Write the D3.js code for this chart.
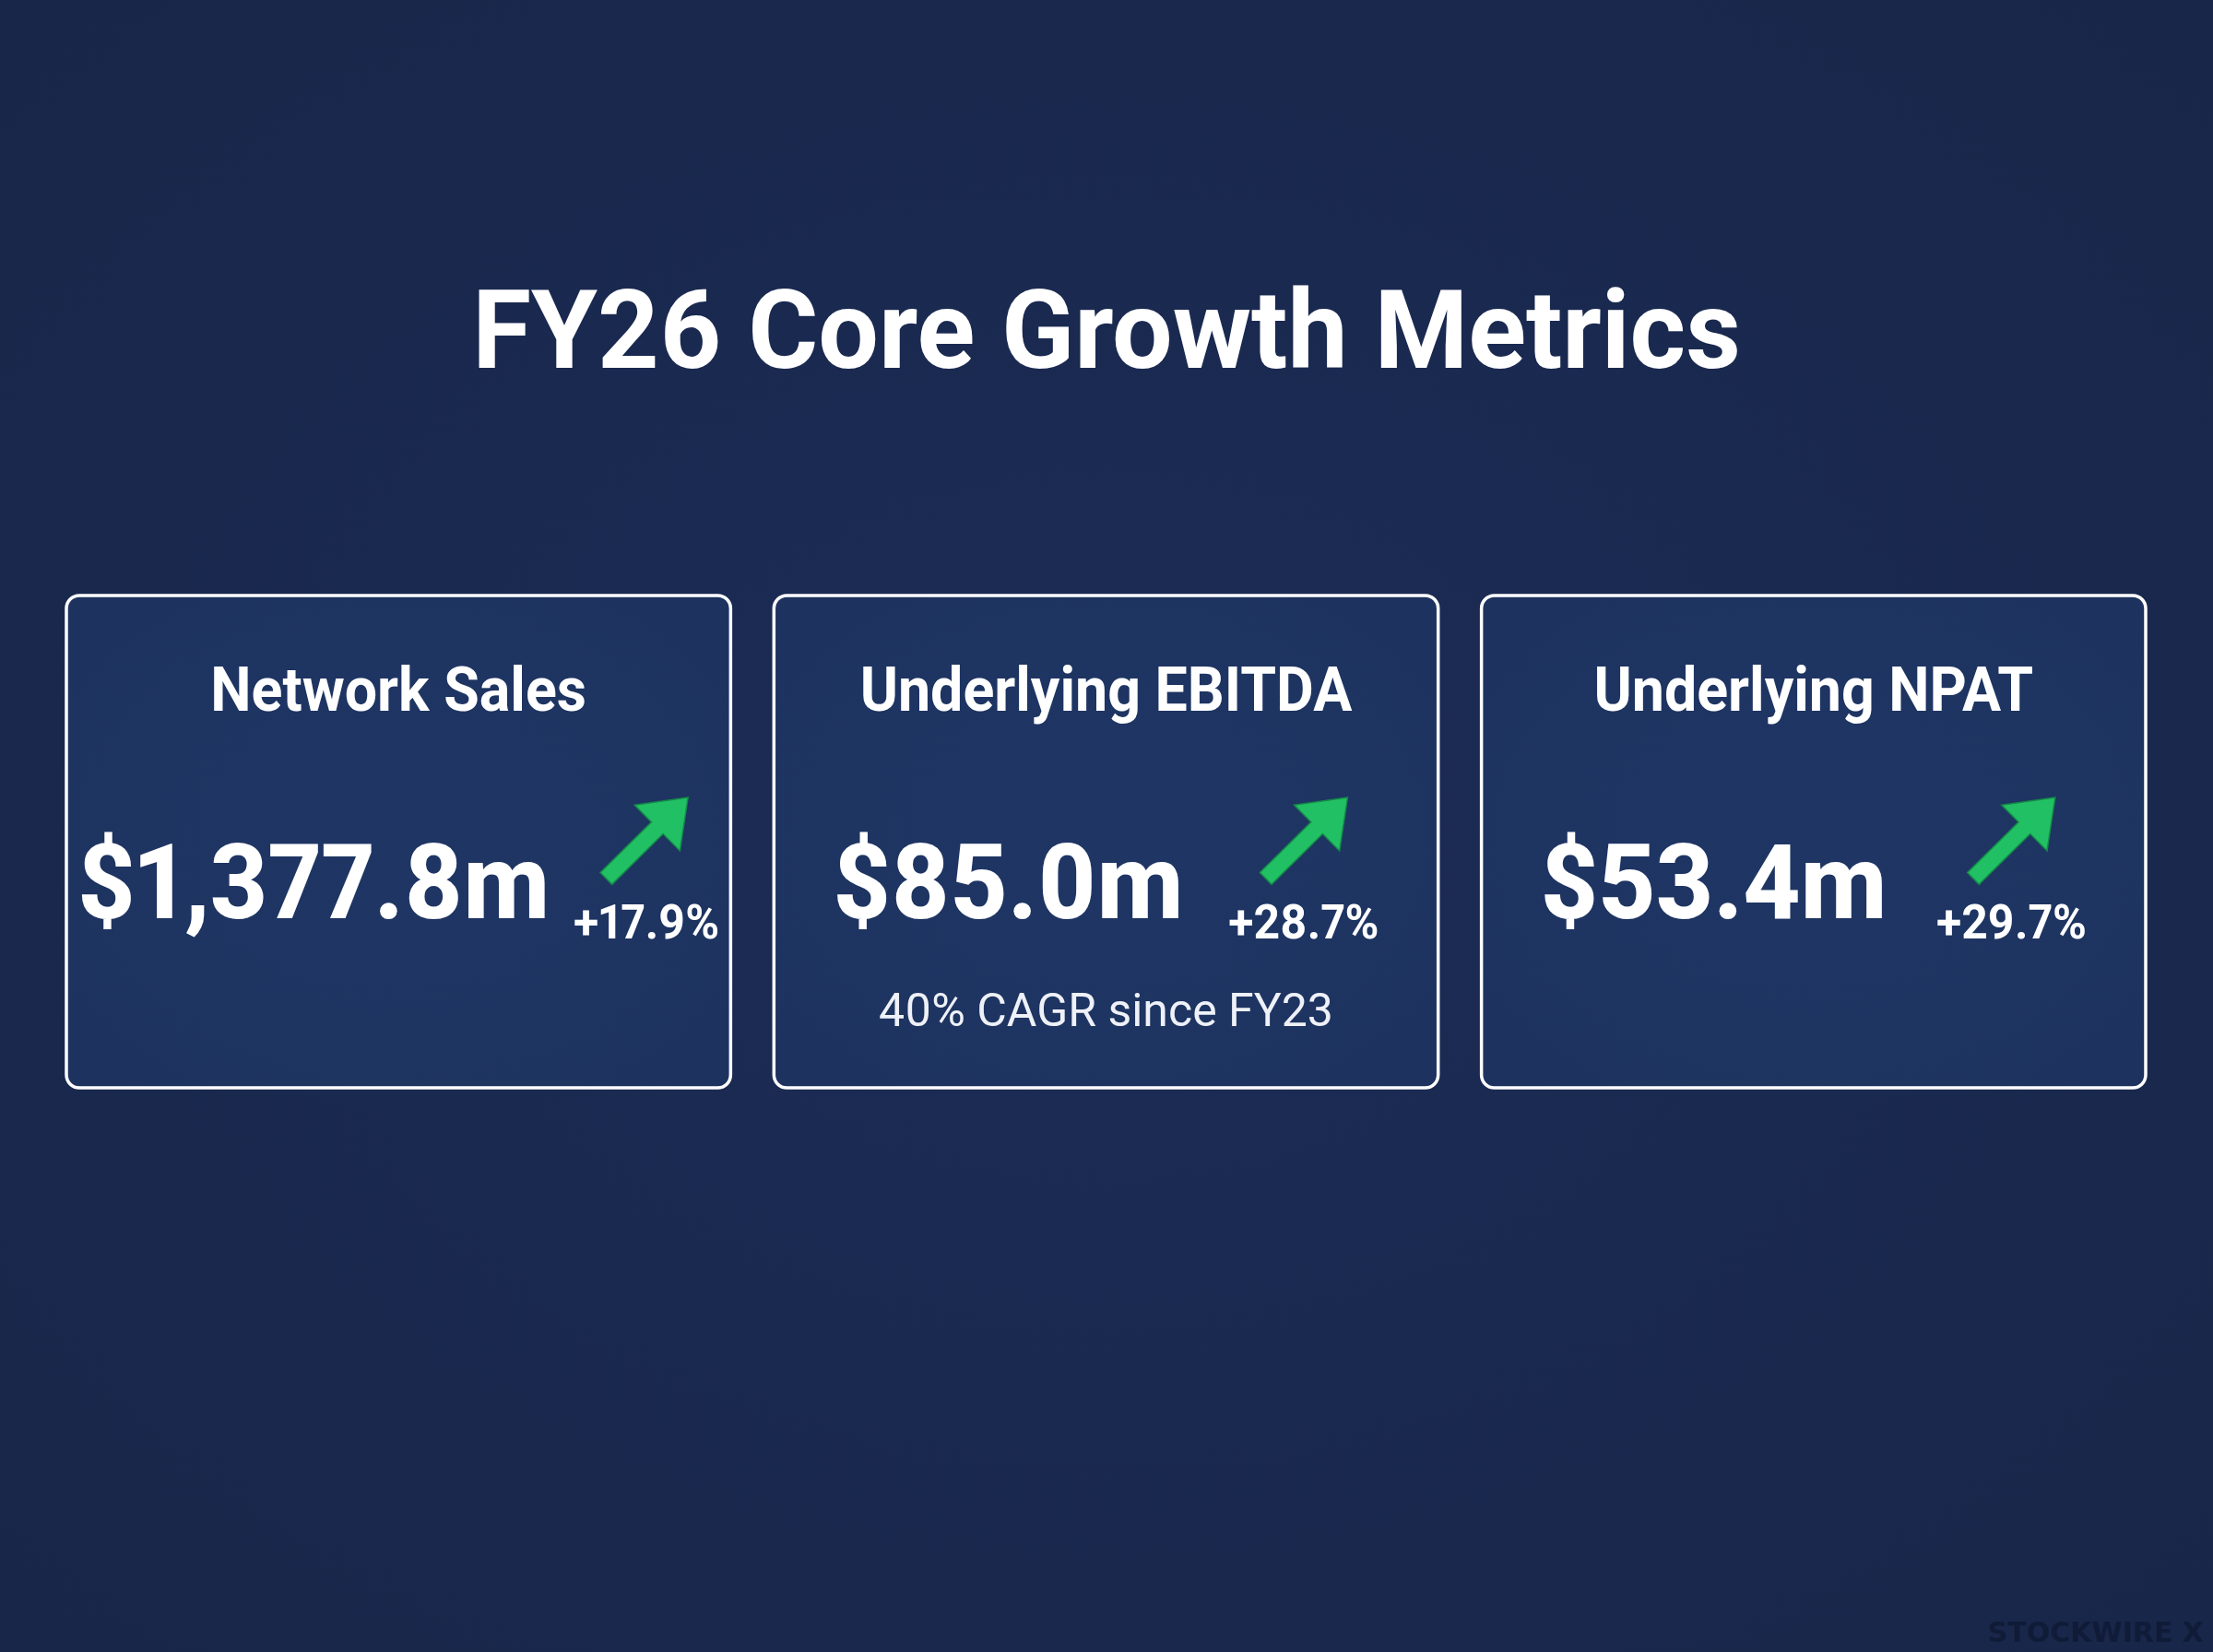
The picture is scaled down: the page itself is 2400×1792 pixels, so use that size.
<!DOCTYPE html>
<html>
<head>
<meta charset="utf-8">
<script src="https://cdn.jsdelivr.net/npm/d3@7/dist/d3.min.js"></script>
<style>
  html, body { margin: 0; padding: 0; background: #1a2950; }
  svg { display: block; }
  text { font-variant-numeric: proportional-nums; font-feature-settings: "pnum" 1; }
</style>
</head>
<body>
<svg id="chart" width="2400" height="1792"></svg>
<script>
// ---- Data ----
const chartTitle = "FY26 Core Growth Metrics";
const metrics = ["Network Sales", "Underlying EBITDA", "Underlying NPAT"];
const values = [1377.8, 85.0, 53.4];          // $m
const growth = [17.9, 28.7, 29.7];            // % YoY
const notes = ["", "40% CAGR since FY23", ""];
const watermark = "STOCKWIRE X";

// ---- Setup ----
const W = 2400, H = 1792;
const svg = d3.select("#chart");
const FONT = "Roboto, 'Liberation Sans', Arial, sans-serif";

// condense a text element horizontally by factor f
function condense(sel, f) {
  sel.each(function() {
    const w = this.getComputedTextLength();
    if (w > 0) d3.select(this).attr("textLength", w * f).attr("lengthAdjust", "spacingAndGlyphs");
  });
}

const defs = svg.append("defs");
const bg = defs.append("radialGradient").attr("id", "bg").attr("cx", "50%").attr("cy", "50%").attr("r", "70%");
bg.append("stop").attr("offset", "0%").attr("stop-color", "#1c2c56");
bg.append("stop").attr("offset", "100%").attr("stop-color", "#182649");
const cg = defs.append("radialGradient").attr("id", "card").attr("cx", "50%").attr("cy", "50%").attr("r", "75%");
cg.append("stop").attr("offset", "0%").attr("stop-color", "#1f3665");
cg.append("stop").attr("offset", "100%").attr("stop-color", "#1d325e");

svg.append("rect").attr("width", W).attr("height", H).attr("fill", "url(#bg)");

// Title
svg.append("text")
  .attr("x", W / 2).attr("y", 399)
  .attr("text-anchor", "middle")
  .attr("font-family", FONT).attr("font-weight", 700).attr("font-size", 118)
  .attr("fill", "#ffffff")
  .text(chartTitle)
  .call(condense, 0.985);

// Card scale
const x = d3.scaleBand().domain(metrics).range([72, 2327]).paddingInner(0.0612);
const cardTop = 646, cardH = 534;
const bw = x.bandwidth();

const fmtVal = v => "$" + d3.format(",.1f")(v) + "m";
const fmtPct = v => "+" + d3.format(".1f")(v) + "%";

const data = metrics.map((m, i) => ({ m, v: values[i], g: growth[i], note: notes[i] }));

const cards = svg.selectAll("g.card").data(data).join("g").attr("class", "card")
  .attr("transform", d => `translate(${x(d.m)},0)`);

cards.append("rect")
  .attr("x", 0).attr("y", cardTop)
  .attr("width", bw).attr("height", cardH)
  .attr("rx", 14).attr("ry", 14)
  .attr("fill", "url(#card)")
  .attr("stroke", "#ffffff").attr("stroke-width", 3.5);

cards.append("text")
  .attr("x", bw / 2).attr("y", 771)
  .attr("text-anchor", "middle")
  .attr("font-family", FONT).attr("font-weight", 700).attr("font-size", 66)
  .attr("fill", "#ffffff")
  .text(d => d.m)
  .call(condense, 0.95);

const valText = cards.append("text")
  .attr("y", 996)
  .attr("font-family", FONT).attr("font-weight", 800).attr("font-size", 114)
  .attr("fill", "#ffffff")
  .text(d => fmtVal(d.v))
  .call(condense, 0.95);

const pctText = cards.append("text")
  .attr("y", 1018)
  .attr("font-family", FONT).attr("font-weight", 700).attr("font-size", 52)
  .attr("fill", "#ffffff")
  .text(d => fmtPct(d.g))
  .call(condense, 0.96);

cards.append("text")
  .attr("x", bw / 2).attr("y", 1113)
  .attr("text-anchor", "middle")
  .attr("font-family", FONT).attr("font-weight", 400).attr("font-size", 50)
  .attr("fill", "#eef1f7")
  .text(d => d.note);

// Layout value + growth group centred in each card, arrow above growth
const arrowPts = [[0,0],[-47,-35],[-47,-9],[-125,-9],[-125,9],[-47,9],[-47,35]];
cards.each(function(d, i) {
  const g = d3.select(this);
  const vNode = valText.nodes()[i], pNode = pctText.nodes()[i];
  const vw = +vNode.getAttribute("textLength") || vNode.getComputedTextLength();
  const pw = +pNode.getAttribute("textLength") || pNode.getComputedTextLength();
  const gap = Math.max(26, 592 - vw - pw);
  const total = vw + gap + pw;
  const start = bw / 2 - total / 2;
  d3.select(vNode).attr("x", start);
  const px = start + vw + gap;
  d3.select(pNode).attr("x", px);
  const tipX = px + pw - 34;
  g.append("path")
    .attr("d", d3.line()(arrowPts) + "Z")
    .attr("transform", `translate(${tipX},865) rotate(-44.7)`)
    .attr("fill", "#22c064")
    .attr("stroke", "#138a48").attr("stroke-width", 1.5)
    .attr("stroke-linejoin", "miter");
});

// Watermark
svg.append("text")
  .attr("x", 2390).attr("y", 1781)
  .attr("text-anchor", "end")
  .attr("font-family", "'DejaVu Sans', Roboto, sans-serif").attr("font-weight", 700).attr("font-size", 30)
  .attr("fill", "#101b38")
  .text(watermark);
</script>
</body>
</html>
